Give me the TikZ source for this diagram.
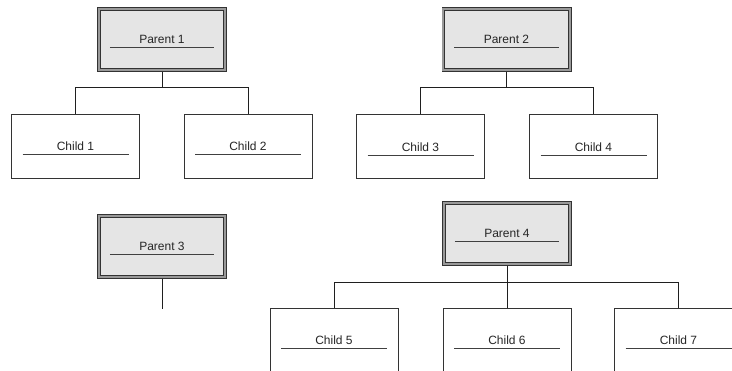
\documentclass[tikz,border=0pt]{standalone}
\usepackage{fontspec}
\setmainfont{Liberation Sans}
\begin{document}
\begin{tikzpicture}[x=1pt,y=-1pt,
  every node/.style={font=\fontsize{12}{14}\selectfont, text=black!85},
  uline/.style={path picture={\draw[black!75,line width=1pt]
      ([xshift=11pt,yshift=-8.5pt]path picture bounding box.west) --
      ([xshift=-11pt,yshift=-8.5pt]path picture bounding box.east);}},
  childbox/.style={draw=black!80, line width=1pt, fill=white,
      minimum width=128pt, minimum height=64pt, inner sep=0pt, uline},
  parentbox/.style={draw=black!80, line width=0.8pt, double=black!40,
      double distance=2pt, fill=black!10, outer sep=1.8pt,
      minimum width=126.4pt, minimum height=61.4pt, inner sep=0pt, uline},
  conn/.style={draw=black!88, line width=0.9pt}]
\useasboundingbox (0,0) rectangle (732,371);
\fill[white] (0,0) rectangle (732,371);
\begin{scope}
\clip (0,0) rectangle (732,371);
\node[parentbox] (p1) at (162,39.5) {Parent 1};
\node[parentbox] (p2) at (506.5,39.5) {Parent 2};
\node[parentbox] (p3) at (162,246.5) {Parent 3};
\node[parentbox] (p4) at (507,233.5) {Parent 4};
\node[childbox] (c1) at (75.5,146.5) {Child 1};
\node[childbox] (c2) at (248,146.5) {Child 2};
\node[childbox] (c3) at (420.5,147) {Child 3};
\node[childbox] (c4) at (593.5,147) {Child 4};
\node[childbox] (c5) at (334,340.5) {Child 5};
\node[childbox] (c6) at (507,340.5) {Child 6};
\node[childbox] (c7) at (678.5,340.5) {Child 7};
\coordinate (p3end) at (162,309);
\draw[conn] (p1.south) -- ++(0,15) -| (c1.north);
\draw[conn] (p1.south) -- ++(0,15) -| (c2.north);
\draw[conn] (p2.south) -- ++(0,15) -| (c3.north);
\draw[conn] (p2.south) -- ++(0,15) -| (c4.north);
\draw[conn] (p3.south) -- (p3end);
\draw[conn] (p4.south) -- ++(0,16) -| (c5.north);
\draw[conn] (p4.south) -- (c6.north);
\draw[conn] (p4.south) -- ++(0,16) -| (c7.north);
\end{scope}
\end{tikzpicture}
\end{document}
